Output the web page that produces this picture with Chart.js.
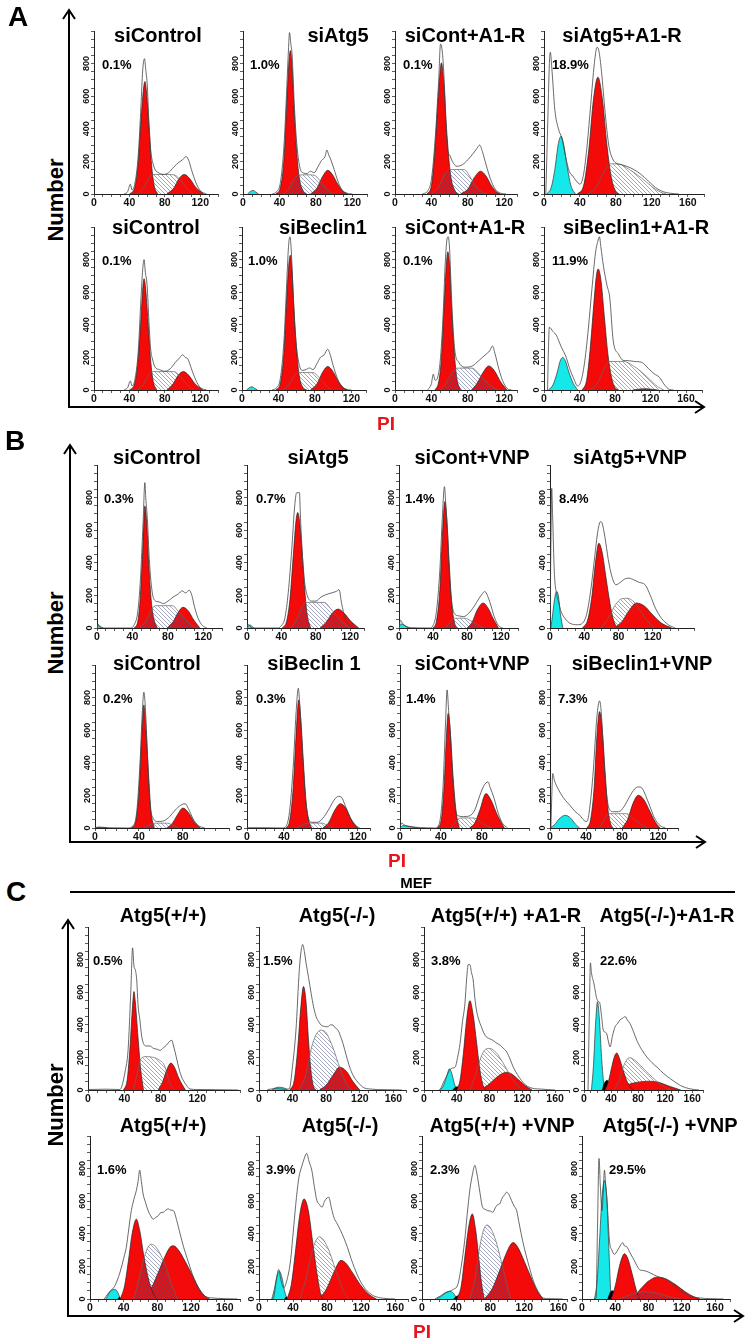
<!DOCTYPE html>
<html>
<head>
<meta charset="utf-8">
<script src="https://cdn.jsdelivr.net/npm/chart.js@4.4.1/dist/chart.umd.min.js"></script>
<style>
body { margin: 0; background: #fff; }
#fig { position: relative; width: 745px; height: 1340px; overflow: hidden; font-family: "Liberation Sans", Arial, sans-serif; }
.box { position: absolute; }
.t { position: absolute; font-weight: bold; white-space: nowrap; color: #000; line-height: 1; }
.title { font-size: 20px; transform: translate(-50%, -50%); }
.pct { font-size: 13px; transform: translateY(-50%); }
.panel { font-size: 28px; transform: translate(-50%, -50%); }
.num { font-size: 22px; transform: translate(-50%, -50%) rotate(-90deg); }
.pi { font-size: 19px; color: #e8161c; transform: translate(-50%, -50%); }
.mef { font-size: 15px; transform: translate(-50%, -50%); }
</style>
</head>
<body>
<div id="fig">
<svg width="745" height="1340" style="position:absolute;left:0;top:0" fill="none" stroke="#000" stroke-width="2">
  <!-- panel A -->
  <line x1="69" y1="407" x2="69" y2="11"/><polyline points="63,19 69,10 75,19"/>
  <line x1="68" y1="407" x2="703" y2="407"/><polyline points="695,401 704,407 695,413"/>
  <!-- panel B -->
  <line x1="70" y1="842" x2="70" y2="446"/><polyline points="64,454 70,445 76,454"/>
  <line x1="69" y1="842" x2="704" y2="842"/><polyline points="696,836 705,842 696,848"/>
  <!-- panel C -->
  <line x1="70" y1="892" x2="735" y2="892"/>
  <line x1="68" y1="1316" x2="68" y2="921"/><polyline points="62,929 68,920 74,929"/>
  <line x1="67" y1="1316" x2="742" y2="1316"/><polyline points="734,1310 743,1316 734,1322"/>
</svg>
</div>
<script>
// labels
var titles = ["siControl", "siAtg5", "siCont+A1-R", "siAtg5+A1-R", "siControl", "siBeclin1", "siCont+A1-R", "siBeclin1+A1-R",
              "siControl", "siAtg5", "siCont+VNP", "siAtg5+VNP", "siControl", "siBeclin 1", "siCont+VNP", "siBeclin1+VNP",
              "Atg5(+/+)", "Atg5(-/-)", "Atg5(+/+) +A1-R", "Atg5(-/-)+A1-R", "Atg5(+/+)", "Atg5(-/-)", "Atg5(+/+) +VNP", "Atg5(-/-) +VNP"];
var pcts = ["0.1%", "1.0%", "0.1%", "18.9%", "0.1%", "1.0%", "0.1%", "11.9%",
            "0.3%", "0.7%", "1.4%", "8.4%", "0.2%", "0.3%", "1.4%", "7.3%",
            "0.5%", "1.5%", "3.8%", "22.6%", "1.6%", "3.9%", "2.3%", "29.5%"];
var xMax = [140, 136, 134, 178, 140, 136, 134, 178,
            141, 136, 140, 168, 122, 133, 126, 142,
            167, 175, 177, 176, 178, 175, 170, 178];
var yTickLabels = [0, 200, 400, 600, 800];
var xTickLabels = [0, 40, 80, 120, 160];

// panel A, top row
var a1G1 = [[40,0],[46,40],[50,200],[53,450],[56,650],[57.5,690],[59,640],[62,420],[65,180],[68,50],[72,0]];
var a1S = [[48,0],[55,30],[61,90],[66,120],[80,120],[90,118],[97,90],[104,40],[112,0]];
var a1G2 = [[82,0],[90,35],[96,95],[102,120],[108,95],[115,40],[124,0]];
var a1Line = [[34,0],[38,15],[41,60],[43,25],[46,60],[50,240],[53,540],[55,760],[57,830],[58.5,760],[60,680],[62,440],[64,270],[66,200],[69,150],[73,130],[78,120],[84,130],[90,165],[96,195],[100,210],[104,230],[107,205],[110,150],[115,70],[120,20],[127,0]];

var a2Sub = [[5,0],[8,15],[11,22],[14,12],[17,0]];
var a2G1 = [[36,0],[41,40],[45,220],[48,560],[50.5,820],[52,880],[54,760],[56,520],[59,250],[62,90],[66,20],[70,0]];
var a2S = [[44,0],[50,30],[56,90],[61,115],[70,118],[78,115],[84,85],[90,40],[98,0]];
var a2G2 = [[74,0],[81,35],[87,105],[93,145],[98,120],[104,60],[110,15],[115,0]];
var a2Line = [[32,0],[37,15],[41,70],[45,300],[48,650],[50,900],[51,990],[52.5,920],[54,840],[56,580],[58,380],[60,250],[63,150],[66,130],[70,125],[74,140],[78,130],[82,165],[86,205],[90,230],[92,270],[94,240],[96,215],[100,150],[104,80],[108,30],[114,5],[120,0]];

var a3G1 = [[35,0],[40,50],[44,280],[48,640],[51,805],[54,650],[57,370],[61,120],[66,20],[70,0]];
var a3S = [[40,0],[48,45],[55,125],[60,150],[76,150],[82,110],[88,50],[96,10],[102,0]];
var a3G2 = [[72,0],[80,30],[87,100],[94,140],[100,110],[106,50],[112,10],[116,0]];
var a3Line = [[30,0],[36,20],[40,90],[44,330],[48,700],[50,920],[52,870],[54,700],[56,420],[58,260],[60,240],[63,200],[68,170],[74,180],[80,210],[86,250],[90,280],[93,300],[96,260],[100,180],[105,90],[110,30],[116,5],[122,0]];

var a4Sub = [[3,0],[8,40],[12,150],[16,310],[19,355],[22,300],[26,160],[30,50],[35,0]];
var a4G1 = [[37,0],[44,50],[50,280],[55,580],[60,717],[65,580],[70,300],[75,100],[80,15],[84,0]];
var a4S = [[48,0],[58,40],[66,130],[73,185],[82,185],[95,150],[108,100],[120,45],[130,10],[136,0]];
var a4Line = [[2,0],[4,400],[6,800],[7,870],[9,750],[12,520],[16,400],[20,340],[24,230],[28,140],[32,110],[36,80],[40,60],[44,120],[48,300],[52,550],[56,800],[59,900],[61,880],[64,750],[68,500],[72,300],[76,220],[80,190],[86,180],[92,170],[100,150],[108,120],[116,80],[124,40],[132,15],[140,5],[150,0]];

// panel A, bottom row
var a5G1 = [[40,0],[46,40],[50,200],[53,440],[55,620],[56.5,683],[58,640],[61,420],[64,180],[67,50],[71,0]];
var a5S = [[48,0],[55,30],[61,85],[66,113],[90,113],[97,85],[104,40],[112,0]];
var a5G2 = [[82,0],[89,35],[95,90],[101,113],[107,90],[114,38],[123,0]];
var a5Line = [[34,0],[38,15],[41,55],[43,25],[46,60],[50,240],[53,560],[55,740],[56.5,800],[58,720],[60,640],[62,420],[64,250],[66,190],[69,140],[74,125],[80,115],[86,130],[92,170],[97,200],[100,216],[103,200],[106,190],[110,130],[115,60],[120,15],[127,0]];

var a6Sub = [[5,0],[8,14],[11,20],[14,10],[17,0]];
var a6G1 = [[37,0],[42,40],[46,230],[49,560],[51.5,780],[53,827],[55,720],[57,500],[60,240],[63,80],[67,15],[71,0]];
var a6S = [[45,0],[51,30],[57,85],[62,107],[78,107],[84,80],[90,40],[98,0]];
var a6G2 = [[75,0],[82,35],[88,105],[94,144],[99,120],[105,60],[111,15],[116,0]];
var a6Line = [[33,0],[38,15],[42,70],[46,300],[49,650],[51,880],[52.5,940],[54,860],[56,600],[58,380],[60,250],[63,150],[66,120],[70,125],[74,135],[78,125],[82,160],[86,200],[90,215],[94,250],[96,230],[100,150],[104,80],[108,30],[114,5],[120,0]];

var a7G1 = [[44,0],[48,50],[51,200],[54,520],[56.5,780],[58,848],[60,760],[62,520],[65,240],[68,70],[72,0]];
var a7S = [[50,0],[56,40],[62,100],[68,134],[85,134],[92,100],[100,50],[108,15],[114,0]];
var a7G2 = [[84,0],[90,40],[97,110],[103,148],[109,120],[116,50],[123,0]];
var a7Line = [[36,0],[40,40],[42,97],[44,60],[47,80],[50,200],[53,480],[55,760],[57,920],[58.5,940],[60,860],[62,580],[64,360],[66,230],[70,170],[76,140],[84,145],[90,170],[96,200],[100,220],[104,240],[107,270],[110,220],[114,130],[118,60],[123,10],[128,0]];

var a8Sub = [[5,0],[10,30],[15,110],[18,175],[21,200],[24,180],[28,110],[33,40],[38,0]];
var a8G1 = [[43,0],[48,60],[52,250],[56,520],[59,700],[61,743],[64,680],[68,450],[72,220],[76,80],[80,15],[84,0]];
var a8S = [[52,0],[60,40],[67,120],[74,175],[90,175],[100,150],[110,110],[120,60],[128,20],[135,0]];
var a8G2 = [[100,0],[108,6],[115,8],[122,4],[128,0]];
var a8Line = [[4,0],[5,250],[6,385],[10,360],[14,335],[19,270],[25,200],[29,130],[33,76],[38,25],[42,60],[46,180],[50,380],[54,620],[58,840],[61,920],[62.5,940],[64,880],[67,760],[71,640],[74,570],[78,302],[84,220],[89,182],[95,180],[102,175],[110,170],[118,130],[124,100],[130,78],[136,30],[141,4],[146,0]];

// panel B, top row
var b1Sub = [[0,0],[2,15],[4,8],[7,0]];
var b1G1 = [[42,0],[46,40],[49,200],[52,530],[54,749],[56,650],[58,430],[61,180],[64,60],[68,0]];
var b1S = [[48,0],[55,40],[61,110],[66,137],[85,137],[92,100],[100,50],[107,15],[113,0]];
var b1G2 = [[79,0],[86,40],[92,100],[97,127],[103,105],[109,50],[116,0]];
var b1Line = [[0,0],[1,25],[3,10],[6,0],[38,0],[42,20],[46,100],[49,300],[52,650],[54,892],[55,800],[57,650],[59,420],[62,230],[65,170],[70,160],[75,150],[80,165],[86,190],[92,210],[96,228],[100,215],[104,232],[107,200],[110,130],[114,60],[119,15],[124,0]];

var b2Sub = [[0,0],[2,15],[4,18],[6,8],[8,0]];
var b2G1 = [[41,0],[46,40],[50,180],[54,460],[57,660],[59,708],[61,660],[64,470],[67,240],[70,80],[74,0]];
var b2S = [[50,0],[57,45],[63,120],[68,157],[90,157],[97,120],[105,70],[113,25],[120,0]];
var b2G2 = [[85,0],[92,35],[99,90],[106,116],[113,90],[121,40],[130,0]];
var b2Line = [[0,0],[1,22],[3,15],[6,0],[36,0],[40,15],[44,60],[48,220],[52,480],[55,720],[57,820],[58,830],[61,830],[62,700],[64,480],[67,280],[70,200],[75,165],[80,165],[86,190],[92,205],[98,215],[104,225],[107,235],[110,150],[114,60],[118,20],[124,0]];

var b3Sub = [[0,0],[2,25],[5,20],[9,8],[13,0]];
var b3G1 = [[40,0],[44,40],[48,230],[51,560],[54,776],[56,680],[59,400],[62,150],[66,20],[69,0]];
var b3S = [[55,0],[60,35],[65,60],[78,60],[84,45],[92,20],[100,0]];
var b3G2 = [[80,0],[86,35],[92,110],[99,153],[105,120],[111,55],[117,0]];
var b3Line = [[0,0],[1,35],[2,47],[4,30],[8,10],[14,2],[36,0],[40,15],[44,100],[48,350],[51,680],[53.5,867],[55,760],[57,600],[59,360],[62,160],[65,90],[70,75],[76,70],[82,90],[88,130],[94,180],[98,210],[101,224],[104,200],[108,140],[112,70],[117,15],[122,0]];

var b4Sub = [[1,0],[3,80],[6,200],[8,224],[10,190],[12,90],[15,0]];
var b4G1 = [[38,0],[44,50],[49,200],[53,400],[57,520],[61,460],[65,320],[70,150],[74,50],[78,0]];
var b4S = [[60,0],[68,60],[76,140],[84,180],[90,182],[98,160],[106,100],[114,40],[122,0]];
var b4G2 = [[75,0],[84,40],[92,105],[101,153],[110,135],[120,80],[130,30],[142,0]];
var b4Line = [[0,0],[1,500],[2,857],[3,700],[5,347],[8,200],[10,160],[13,100],[18,55],[23,30],[32,20],[38,30],[43,90],[48,250],[52,430],[56,600],[59,653],[61,640],[64,560],[68,420],[72,320],[77,265],[82,280],[87,300],[92,306],[98,295],[104,280],[111,265],[117,200],[123,122],[130,60],[138,20],[146,0]];

// panel B, bottom row
var b5Sub = [[0,0],[3,6],[8,4],[12,0]];
var b5G1 = [[33,0],[37,40],[40,220],[42.5,560],[44.5,755],[46.5,600],[49,300],[51,100],[54,0]];
var b5S = [[44,0],[50,20],[56,30],[65,30],[70,20],[76,0]];
var b5G2 = [[65,0],[70,25],[75,80],[80,122],[85,95],[90,40],[96,0]];
var b5Line = [[0,3],[10,2],[30,0],[34,10],[38,100],[41,400],[43,700],[44.5,833],[46,720],[48,400],[50,150],[53,60],[57,40],[63,45],[68,70],[73,110],[78,140],[82,149],[85,120],[89,60],[94,15],[100,0]];

var b6G1 = [[42,0],[46,40],[50,250],[53,560],[56,786],[58,680],[61,400],[64,150],[67,40],[70,0]];
var b6S = [[54,0],[60,20],[66,30],[80,30],[86,20],[92,0]];
var b6G2 = [[82,0],[88,30],[95,110],[101,149],[107,120],[113,50],[120,0]];
var b6Line = [[0,2],[20,2],[38,0],[42,10],[46,100],[50,380],[53,700],[55.5,857],[57,760],[60,460],[63,200],[66,70],[70,35],[76,35],[82,60],[88,110],[94,170],[99,194],[102,190],[106,140],[111,70],[116,20],[122,0]];

var b7Sub = [[0,0],[3,15],[8,12],[14,4],[18,0]];
var b7G1 = [[36,0],[40,40],[43,250],[45.5,580],[47,703],[49,600],[52,300],[55,90],[58,0]];
var b7S = [[50,0],[55,45],[60,62],[72,62],[77,45],[84,15],[90,0]];
var b7G2 = [[68,0],[73,30],[78,110],[84,211],[89,170],[95,80],[102,0]];
var b7Line = [[0,10],[2,30],[5,15],[10,8],[20,3],[34,0],[38,20],[42,250],[44.5,650],[46,847],[47.5,720],[49,600],[51,350],[54,120],[57,75],[62,70],[68,75],[73,110],[78,200],[82,260],[86,283],[88,250],[92,180],[96,90],[100,30],[105,0]];

var b8Sub = [[0,0],[5,20],[10,55],[17,78],[23,60],[28,25],[33,0]];
var b8G1 = [[41,0],[45,50],[49,250],[52,560],[55,714],[58,600],[61,350],[64,130],[67,30],[70,0]];
var b8S = [[55,0],[60,50],[65,88],[85,88],[92,60],[100,25],[108,0]];
var b8G2 = [[80,0],[86,50],[92,150],[98,201],[104,175],[111,100],[117,35],[122,0]];
var b8Line = [[1,0],[2,200],[3,334],[5,290],[7,262],[12,210],[17,170],[22,140],[28,100],[33,78],[38,45],[41,40],[44,120],[48,350],[52,680],[55,780],[57,700],[59,500],[62,250],[65,130],[70,100],[76,100],[82,130],[88,190],[94,240],[98,252],[102,245],[106,200],[111,130],[116,60],[122,15],[128,0]];

// panel C, top row
var c1G1 = [[39,0],[43,60],[46,250],[49,520],[50.5,604],[52,540],[55,320],[58,120],[61,0]];
var c1S = [[50,0],[54,100],[58,190],[64,205],[72,200],[78,185],[84,150],[90,40],[95,0]];
var c1G2 = [[77,0],[82,50],[87,130],[91,165],[95,140],[100,70],[107,0]];
var c1Line = [[0,3],[20,5],[35,3],[37,20],[41,120],[44,243],[47,600],[49,872],[50.5,760],[52,737],[53.5,676],[55,520],[57,429],[59,330],[61,285],[64,270],[68,270],[72,255],[76,250],[79,243],[83,260],[86,274],[90,300],[92,305],[94,270],[97,202],[100,130],[103,78],[108,30],[112,6],[120,3],[140,2],[165,0]];

var c2Sub = [[15,0],[18,10],[24,17],[30,12],[34,0]];
var c2G1 = [[37,0],[42,60],[46,250],[50,520],[53,635],[56,540],[59,300],[62,110],[65,20],[68,0]];
var c2S = [[48,0],[56,100],[62,250],[68,340],[74,367],[80,350],[88,260],[96,140],[104,40],[110,0]];
var c2G2 = [[72,0],[80,30],[88,90],[96,140],[104,115],[112,50],[120,0]];
var c2Line = [[10,3],[20,8],[30,5],[36,6],[40,150],[44,367],[48,738],[50,850],[52,893],[54,850],[56,780],[59,690],[62,594],[65,510],[68,450],[71,420],[74,398],[78,390],[82,388],[85,400],[88,398],[91,380],[94,367],[97,330],[100,285],[104,210],[108,140],[112,90],[116,58],[120,35],[124,16],[132,6],[150,2],[170,0]];

var c3Sub = [[20,0],[24,30],[28,90],[31,130],[34,100],[37,40],[40,0]];
var c3Blk = [[35,0],[38,15],[41,20],[44,10],[46,0]];
var c3G1 = [[40,0],[44,60],[48,220],[52,430],[56,548],[60,460],[64,300],[68,130],[72,30],[76,0]];
var c3S = [[56,0],[62,80],[68,180],[74,245],[80,255],[88,230],[96,170],[104,100],[112,40],[120,0]];
var c3G2 = [[68,0],[78,30],[88,75],[96,102],[101,109],[108,95],[116,60],[124,25],[132,0]];
var c3Line = [[18,0],[20,6],[24,50],[27,78],[31,120],[35,135],[38,140],[41,200],[44,285],[47,420],[50,532],[52,680],[54,769],[56,769],[58,720],[60,676],[62,570],[64,491],[67,430],[70,388],[73,350],[76,326],[80,315],[84,305],[88,290],[93,274],[97,255],[101,233],[105,190],[109,140],[114,95],[119,58],[124,30],[129,16],[135,8],[142,6],[150,3],[160,0]];

var c4Sub = [[11,0],[14,150],[17,400],[20,542],[23,420],[26,200],[29,40],[30,0]];
var c4Blk = [[27,0],[30,40],[34,60],[37,40],[40,0]];
var c4G1 = [[31,0],[36,50],[41,140],[45,205],[48.5,227],[52,200],[58,120],[64,50],[70,10],[74,0]];
var c4S = [[45,0],[52,60],[58,140],[64,190],[68,198],[76,180],[86,140],[98,90],[110,45],[120,15],[128,0]];
var c4G2 = [[38,0],[55,20],[75,45],[95,54],[110,48],[125,25],[143,0]];
var c4Line = [[6,0],[8,500],[9.5,780],[11,720],[14.5,656],[17,600],[18.5,565],[21,545],[23.5,532],[26,450],[28.5,367],[31,355],[33.5,346],[36,300],[38.5,264],[42,330],[46,388],[50,410],[53,429],[57,440],[61,450],[64,430],[68,408],[73,360],[78,305],[85,250],[93,202],[100,170],[108,140],[118,100],[128,68],[136,45],[143,27],[150,15],[158,6],[170,0]];

// panel C, bottom row
var c5Sub = [[19,0],[22,30],[26,55],[30,58],[33,40],[36,0]];
var c5Blk = [[33,0],[35,10],[37,0]];
var c5G1 = [[36,0],[41,80],[46,250],[50,400],[55,490],[59,420],[64,260],[70,110],[76,25],[79,0]];
var c5S = [[52,0],[58,120],[64,250],[69,320],[73,336],[78,320],[84,270],[90,200],[96,100],[104,0]];
var c5G2 = [[63,0],[72,60],[80,150],[88,250],[95,318],[99,326],[105,300],[113,230],[122,140],[130,60],[137,15],[142,0]];
var c5Line = [[17,0],[19,16],[24,50],[28,68],[32,110],[36,171],[40,250],[43,315],[46,430],[49,542],[52,610],[55,666],[57,720],[59,790],[61,720],[63,645],[66,590],[69,542],[72,510],[75,490],[78,500],[81,511],[84,530],[87,532],[90,545],[93,553],[96,545],[99,542],[103,480],[107,398],[111,320],[115,254],[119,190],[123,130],[128,70],[134,27],[140,10],[146,6],[160,2],[175,0]];

var c6Sub = [[15,0],[18,60],[21,140],[24,171],[27,130],[30,50],[33,0]];
var c6Blk = [[30,0],[32,12],[34,0]];
var c6G1 = [[33,0],[38,90],[43,300],[48,520],[53,614],[58,540],[63,350],[68,160],[72,40],[75,0]];
var c6S = [[48,0],[54,100],[60,240],[66,350],[71,381],[76,360],[82,300],[88,210],[94,120],[100,40],[106,0]];
var c6G2 = [[70,0],[78,50],[86,140],[92,210],[96,237],[102,220],[110,160],[120,80],[130,25],[138,0]];
var c6Line = [[15,0],[17,6],[20,100],[23,181],[26,110],[29,68],[33,120],[37,233],[40,400],[44,624],[47,750],[50,810],[53,860],[56,893],[59,840],[62,790],[65,690],[68,604],[71,580],[74,563],[77,600],[80,620],[82,624],[85,560],[88,500],[92,460],[96,418],[100,370],[104,315],[108,250],[112,192],[118,120],[124,68],[130,35],[136,16],[145,5],[160,0]];

var c7Sub = [[17,0],[22,15],[27,35],[32,47],[37,35],[41,0]];
var c7Blk = [[37,0],[40,15],[43,20],[46,8],[48,0]];
var c7G1 = [[41,0],[46,80],[50,250],[55,450],[59,522],[63,420],[67,230],[70,90],[73,0]];
var c7S = [[56,0],[62,120],[67,300],[72,420],[76,454],[81,430],[87,350],[93,230],[99,100],[104,0]];
var c7G2 = [[73,0],[82,60],[90,160],[98,270],[104,335],[107,346],[112,320],[120,230],[128,130],[135,50],[142,0]];
var c7Line = [[15,0],[17,6],[22,20],[27,38],[32,47],[37,60],[42,89],[46,200],[50,357],[53,520],[56,666],[59,760],[62,820],[64,780],[66,718],[68,650],[71,563],[74,550],[77,542],[80,540],[83,532],[86,560],[89,580],[91,583],[94,620],[97,640],[99,655],[102,640],[105,604],[108,570],[111,542],[114,460],[118,357],[122,270],[126,192],[130,120],[134,68],[138,30],[142,6],[150,2],[165,0]];

var c8Sub = [[15,0],[18,100],[21,350],[24,620],[27,728],[30,600],[32,350],[34,100],[35,0]];
var c8Blk = [[31,0],[34,40],[37,50],[40,30],[42,0]];
var c8G1 = [[35,0],[40,80],[45,200],[49,265],[51,278],[55,250],[60,160],[65,60],[69,0]];
var c8S = [[45,0],[55,20],[65,38],[75,45],[88,38],[100,20],[110,8],[120,0]];
var c8G2 = [[57,0],[65,30],[72,70],[80,110],[90,134],[100,125],[112,90],[124,45],[134,15],[142,0]];
var c8Line = [[14,0],[17,6],[18.5,400],[20.5,862],[22,700],[24,542],[25.5,650],[27,790],[28.5,700],[30,614],[31.5,480],[33,357],[36,300],[39,274],[43,300],[47,336],[49,345],[51,326],[54,320],[57,290],[61,254],[65,215],[69,181],[73,175],[77,171],[82,160],[86,150],[90,140],[96,130],[102,120],[108,95],[114,68],[120,45],[126,28],[130,16],[136,10],[142,6],[155,2],[170,0]];

var plots = [
    {g1: a1G1, s: a1S, g2: a1G2, line: a1Line},
    {sub: a2Sub, g1: a2G1, s: a2S, g2: a2G2, line: a2Line},
    {g1: a3G1, s: a3S, g2: a3G2, line: a3Line},
    {sub: a4Sub, g1: a4G1, s: a4S, line: a4Line},
    {g1: a5G1, s: a5S, g2: a5G2, line: a5Line},
    {sub: a6Sub, g1: a6G1, s: a6S, g2: a6G2, line: a6Line},
    {g1: a7G1, s: a7S, g2: a7G2, line: a7Line},
    {sub: a8Sub, g1: a8G1, s: a8S, g2: a8G2, line: a8Line},
    {sub: b1Sub, g1: b1G1, s: b1S, g2: b1G2, line: b1Line},
    {sub: b2Sub, g1: b2G1, s: b2S, g2: b2G2, line: b2Line},
    {sub: b3Sub, g1: b3G1, s: b3S, g2: b3G2, line: b3Line},
    {sub: b4Sub, g1: b4G1, s: b4S, g2: b4G2, line: b4Line},
    {sub: b5Sub, g1: b5G1, s: b5S, g2: b5G2, line: b5Line},
    {g1: b6G1, s: b6S, g2: b6G2, line: b6Line},
    {sub: b7Sub, g1: b7G1, s: b7S, g2: b7G2, line: b7Line},
    {sub: b8Sub, g1: b8G1, s: b8S, g2: b8G2, line: b8Line},
    {g1: c1G1, s: c1S, g2: c1G2, line: c1Line},
    {sub: c2Sub, g1: c2G1, s: c2S, g2: c2G2, line: c2Line},
    {sub: c3Sub, blk: c3Blk, g1: c3G1, s: c3S, g2: c3G2, line: c3Line},
    {sub: c4Sub, blk: c4Blk, g1: c4G1, s: c4S, g2: c4G2, line: c4Line},
    {sub: c5Sub, blk: c5Blk, g1: c5G1, s: c5S, g2: c5G2, line: c5Line},
    {sub: c6Sub, blk: c6Blk, g1: c6G1, s: c6S, g2: c6G2, line: c6Line},
    {sub: c7Sub, blk: c7Blk, g1: c7G1, s: c7S, g2: c7G2, line: c7Line},
    {sub: c8Sub, blk: c8Blk, g1: c8G1, s: c8S, g2: c8G2, line: c8Line}
];

// placement on the page (pixels)
var rowZero = [193, 389, 627, 827, 1089, 1298];
var titleY = [35, 227, 457, 663, 915, 1125];
var axisX = [94, 243, 395, 544, 94, 242, 395, 544,
             97, 247, 399, 550, 95, 247, 400, 550,
             88, 259, 424, 584, 90, 259, 422, 582];
var pxPerUnit = [0.885, 0.91, 0.91, 0.9, 0.885, 0.915, 0.91, 0.89,
                 0.885, 0.86, 0.85, 0.86, 1.1, 0.925, 1.02, 0.9,
                 0.91, 0.84, 0.82, 0.675, 0.84, 0.85, 0.85, 0.83];
var titleX = [158, 338, 465, 622, 156, 323, 465, 636,
              157, 318, 472, 630, 157, 314, 472, 642,
              163, 337, 506, 667, 163, 340, 502, 670];
var pctDx = [8, 7, 8, 8, 8, 6, 8, 8, 7, 9, 6, 9, 8, 9, 6, 8, 5, 4, 7, 16, 7, 7, 8, 27];

var fig = document.getElementById('fig');
var YW = 22, XH = 17, PT = 6, PR = 6, PLOT_H = 162.5;

function addText(txt, cls, x, y) {
    var d = document.createElement('div');
    d.className = 't ' + cls;
    d.textContent = txt;
    d.style.left = x + 'px';
    d.style.top = y + 'px';
    fig.appendChild(d);
}

// diagonal hatching for the S phase
function hatch(ctx) {
    var c = document.createElement('canvas');
    c.width = 4; c.height = 4;
    var g = c.getContext('2d');
    g.strokeStyle = 'rgba(70,80,125,0.7)';
    g.lineWidth = 0.7;
    g.beginPath();
    g.moveTo(0, 0); g.lineTo(4, 4);
    g.moveTo(-1, 3); g.lineTo(1, 5);
    g.moveTo(3, -1); g.lineTo(5, 1);
    g.stroke();
    return ctx.createPattern(c, 'repeat');
}

function area(data, bg, border, order) {
    return {
        data: data || [],
        fill: 'origin',
        backgroundColor: bg,
        borderColor: border,
        borderWidth: 0.7,
        pointRadius: 0,
        cubicInterpolationMode: 'monotone',
        order: order
    };
}

Chart.defaults.font.family = '"Liberation Sans", Arial, sans-serif';

plots.forEach(function (p, i) {
    var row = Math.floor(i / 4);
    var w = Math.round(YW + xMax[i] * pxPerUnit[i] + PR);
    var h = Math.round(PT + PLOT_H + XH);
    var div = document.createElement('div');
    div.className = 'box';
    div.style.left = (axisX[i] - YW) + 'px';
    div.style.top = (rowZero[row] - PLOT_H - PT) + 'px';
    var cv = document.createElement('canvas');
    cv.width = w; cv.height = h;
    cv.style.width = w + 'px'; cv.style.height = h + 'px';
    div.appendChild(cv);
    fig.appendChild(div);
    var ctx = cv.getContext('2d');

    new Chart(ctx, {
        type: 'line',
        data: {
            datasets: [
                area(p.sub, '#14e8e8', '#333', 5),
                area(p.blk, '#000', '#000', 4),
                area(p.g1, '#f50a0a', '#222', 3),
                area(p.g2, '#f50a0a', '#222', 3),
                area(p.s, hatch(ctx), '#666', 1),
                {
                    data: p.line,
                    fill: false,
                    borderColor: '#444',
                    borderWidth: 0.8,
                    pointRadius: 0,
                    cubicInterpolationMode: 'monotone',
                    order: 0
                }
            ]
        },
        options: {
            responsive: false,
            animation: false,
            devicePixelRatio: 1,
            layout: {padding: {top: PT, right: PR, left: 0, bottom: 0}},
            plugins: {legend: {display: false}, tooltip: {enabled: false}},
            scales: {
                x: {
                    type: 'linear',
                    min: 0,
                    max: xMax[i],
                    afterFit: function (s) { s.height = XH; },
                    grid: {drawOnChartArea: false, tickLength: 3, color: '#333', lineWidth: 0.8},
                    border: {color: '#222', width: 1},
                    ticks: {
                        stepSize: 10,
                        autoSkip: false,
                        maxRotation: 0,
                        padding: 0,
                        color: '#111',
                        font: {size: 10.5, weight: 'bold'},
                        callback: function (v) { return xTickLabels.indexOf(v) >= 0 ? String(v) : ''; }
                    }
                },
                y: {
                    min: 0,
                    max: 1000,
                    afterFit: function (s) { s.width = YW; },
                    grid: {drawOnChartArea: false, tickLength: 3, color: '#333', lineWidth: 0.8},
                    border: {color: '#222', width: 1},
                    ticks: {
                        stepSize: 50,
                        autoSkip: false,
                        minRotation: 90,
                        maxRotation: 90,
                        crossAlign: 'center',
                        padding: -3,
                        color: '#111',
                        font: {size: 9, weight: 'bold'},
                        callback: function (v) { return yTickLabels.indexOf(v) >= 0 ? String(v) : ''; }
                    }
                }
            }
        }
    });

    addText(titles[i], 'title', titleX[i], titleY[row]);
    addText(pcts[i], 'pct', axisX[i] + pctDx[i], rowZero[row] - 129);
});

// panel texts
addText('A', 'panel', 18, 17);
addText('B', 'panel', 15, 441);
addText('C', 'panel', 16, 892);
addText('Number', 'num', 56, 200);
addText('Number', 'num', 56, 633);
addText('Number', 'num', 56, 1105);
addText('PI', 'pi', 386, 423);
addText('PI', 'pi', 397, 860);
addText('PI', 'pi', 422, 1331);
addText('MEF', 'mef', 416, 882);
</script>
</body>
</html>
